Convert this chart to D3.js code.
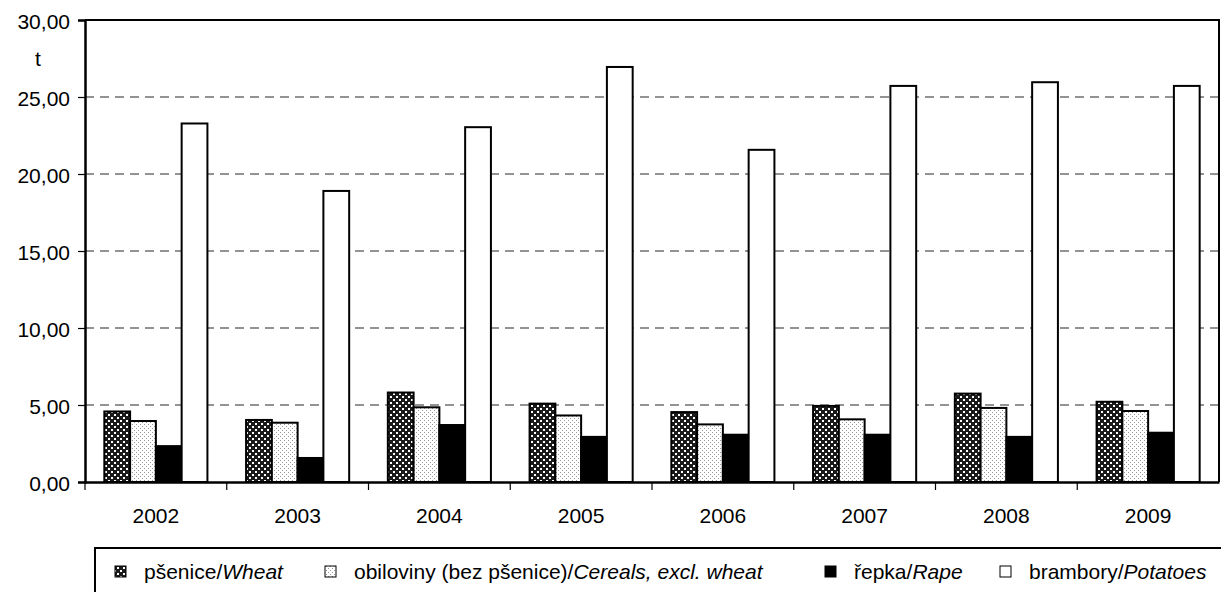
<!DOCTYPE html>
<html>
<head>
<meta charset="utf-8">
<script src="https://cdn.jsdelivr.net/npm/d3@7"></script>
<style>
  html, body { margin: 0; padding: 0; background: #fff; }
  svg { display: block; font-family: "Liberation Sans", Arial, sans-serif; }
</style>
</head>
<body>
<svg id="chart" width="1221" height="592"></svg>
<script>
const years = ["2002", "2003", "2004", "2005", "2006", "2007", "2008", "2009"];
const wheat = [4.58, 4.03, 5.81, 5.09, 4.54, 4.94, 5.74, 5.21];
const cereals = [3.96, 3.85, 4.85, 4.32, 3.74, 4.07, 4.81, 4.61];
const rape = [2.33, 1.56, 3.70, 2.93, 3.07, 3.07, 2.93, 3.20];
const potatoes = [23.28, 18.90, 23.04, 26.95, 21.57, 25.72, 25.96, 25.72];
const seriesNames = [
  ["pšenice/", "Wheat"],
  ["obiloviny (bez pšenice)/", "Cereals, excl. wheat"],
  ["řepka/", "Rape"],
  ["brambory/", "Potatoes"]
];
const yTicks = [0, 5, 10, 15, 20, 25, 30];
const yUnit = "t";

(function () {
const FONT = 21;
const series = [
  { key: "wheat", values: wheat, fill: "url(#patWheat)" },
  { key: "cereals", values: cereals, fill: "url(#patCereals)" },
  { key: "rape", values: rape, fill: "#000" },
  { key: "potatoes", values: potatoes, fill: "#fff" }
];

const svg = d3.select("#chart");
const defs = svg.append("defs");

const pw = defs.append("pattern").attr("id", "patWheat").attr("patternUnits", "userSpaceOnUse")
  .attr("width", 6).attr("height", 6);
pw.append("rect").attr("width", 6).attr("height", 6).attr("fill", "#1a1a1a");
pw.append("rect").attr("x", 0).attr("y", 0).attr("width", 2).attr("height", 2).attr("fill", "#fff");
pw.append("rect").attr("x", 3).attr("y", 3).attr("width", 2).attr("height", 2).attr("fill", "#fff");

const pc = defs.append("pattern").attr("id", "patCereals").attr("patternUnits", "userSpaceOnUse")
  .attr("width", 4).attr("height", 4);
pc.append("rect").attr("width", 4).attr("height", 4).attr("fill", "#fff");
pc.append("rect").attr("x", 0).attr("y", 0).attr("width", 1).attr("height", 1).attr("fill", "#999");
pc.append("rect").attr("x", 2).attr("y", 2).attr("width", 1).attr("height", 1).attr("fill", "#999");

const pLeft = 85, pRight = 1219, pTop = 20, pBottom = 482;

const x = d3.scaleBand().domain(years).range([pLeft, pRight]).paddingInner(0).paddingOuter(0);
const inner = d3.scaleBand().domain(series.map(s => s.key))
  .range([0, x.bandwidth()]).paddingInner(0).paddingOuter(0.75);
const y = d3.scaleLinear().domain([0, 30]).range([pBottom, pTop]);

svg.append("g").selectAll("line").data(yTicks.filter(t => t > 0 && t < 30)).join("line")
  .attr("x1", pLeft).attr("x2", pRight)
  .attr("y1", d => y(d)).attr("y2", d => y(d))
  .attr("stroke", "#707070").attr("stroke-width", 1.3).attr("stroke-dasharray", "9,6");

const gBars = svg.append("g");
series.forEach(s => {
  gBars.append("g").selectAll("rect").data(years.map((yr, i) => ({ yr, v: s.values[i] }))).join("rect")
    .attr("x", d => x(d.yr) + inner(s.key))
    .attr("y", d => y(d.v))
    .attr("width", inner.bandwidth())
    .attr("height", d => y(0) - y(d.v))
    .attr("fill", s.fill)
    .attr("stroke", "#000").attr("stroke-width", 2);
});

svg.append("path")
  .attr("d", `M${pLeft},${pTop}H${pRight}V${pBottom}`)
  .attr("fill", "none").attr("stroke", "#000").attr("stroke-width", 2);

const yAxis = d3.axisLeft(y).tickValues(yTicks).tickSize(7).tickPadding(8)
  .tickFormat(d => d3.format(".2f")(d).replace(".", ","));
const gy = svg.append("g").attr("transform", `translate(${pLeft},0)`).call(yAxis);
gy.select(".domain").attr("stroke", "#000").attr("stroke-width", 2.5);
gy.selectAll(".tick line").attr("stroke", "#000").attr("stroke-width", 1.2);
gy.selectAll(".tick text").attr("font-size", FONT).attr("fill", "#000").attr("dy", "0.42em")
  .attr("font-family", "Liberation Sans, Arial, sans-serif");

const xAxis = d3.axisBottom(x).tickSize(0).tickPadding(26);
const gx = svg.append("g").attr("transform", `translate(0,${pBottom})`).call(xAxis);
gx.select(".domain").attr("stroke", "#000").attr("stroke-width", 2.5);
gx.selectAll(".tick text").attr("font-size", FONT).attr("fill", "#000")
  .attr("font-family", "Liberation Sans, Arial, sans-serif");
gx.append("g").selectAll("line").data(years.slice(1)).join("line")
  .attr("x1", d => x(d)).attr("x2", d => x(d))
  .attr("y1", 0).attr("y2", 8).attr("stroke", "#000").attr("stroke-width", 1.2);
gx.append("line").attr("x1", pLeft).attr("x2", pLeft).attr("y1", 0).attr("y2", 8)
  .attr("stroke", "#000").attr("stroke-width", 1.2);

svg.append("text").attr("x", 38).attr("y", 66).attr("text-anchor", "middle")
  .attr("font-size", FONT).text(yUnit);

const legTop = 548;
svg.append("path").attr("d", `M95,${600}V${legTop}H1230`)
  .attr("fill", "none").attr("stroke", "#000").attr("stroke-width", 2);
const legTextX = [144, 354, 854, 1029];
const legBase = 579;
series.forEach((s, i) => {
  svg.append("rect").attr("x", legTextX[i] - 29).attr("y", legBase - 13).attr("width", 11).attr("height", 11)
    .attr("fill", s.fill).attr("stroke", "#000").attr("stroke-width", 1);
  const t = svg.append("text").attr("x", legTextX[i]).attr("y", legBase).attr("font-size", FONT);
  t.append("tspan").text(seriesNames[i][0]);
  t.append("tspan").attr("font-style", "italic").text(seriesNames[i][1]);
});
})();
</script>
</body>
</html>
